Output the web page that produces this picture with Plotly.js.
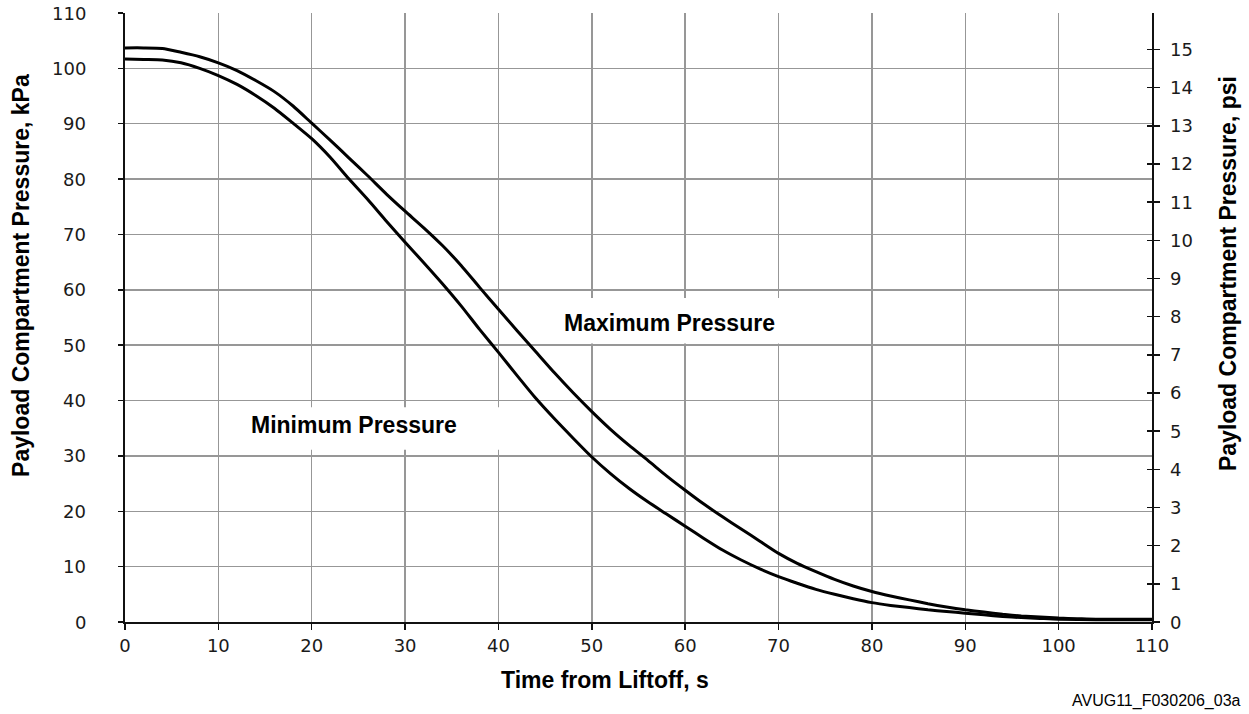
<!DOCTYPE html>
<html>
<head>
<meta charset="utf-8">
<script src="https://cdn.plot.ly/plotly-3.0.1.min.js"></script>
<style>html,body{margin:0;padding:0;background:#fff;}#chart{width:1249px;height:714px;}</style>
</head>
<body>
<div id="chart"></div>
<script>
// Time from liftoff, s
const timeMax = [0, 2, 4, 6, 8, 10, 12, 14, 16, 18, 20, 22, 24, 26, 28, 30, 32, 34, 36, 38, 40, 42, 44, 46, 48, 50, 52, 54, 56, 58, 60, 62, 64, 66, 68, 70, 72, 74, 76, 78, 80, 82, 84, 86, 88, 90, 92, 94, 96, 98, 100, 102, 104, 110];
// Maximum pressure, kPa
const pressureMax = [103.7, 103.7, 103.6, 102.9, 102.1, 101.0, 99.6, 97.8, 95.8, 93.2, 90.1, 87.0, 83.8, 80.6, 77.3, 74.2, 71.2, 68.0, 64.4, 60.4, 56.5, 52.6, 48.8, 45.0, 41.4, 38.0, 34.8, 31.9, 29.2, 26.4, 23.8, 21.3, 19.0, 16.8, 14.6, 12.4, 10.6, 9.1, 7.7, 6.5, 5.5, 4.7, 4.0, 3.3, 2.7, 2.2, 1.8, 1.4, 1.1, 0.9, 0.7, 0.6, 0.5, 0.5];

const timeMin = [0, 2, 4, 6, 8, 10, 12, 14, 16, 18, 20, 22, 24, 26, 28, 30, 32, 34, 36, 38, 40, 42, 44, 46, 48, 50, 52, 54, 56, 58, 60, 62, 64, 66, 68, 70, 72, 74, 76, 78, 80, 82, 84, 86, 88, 90, 92, 94, 96, 98, 100, 104, 110];
// Minimum pressure, kPa
const pressureMin = [101.7, 101.6, 101.5, 101.0, 100.0, 98.7, 97.1, 95.1, 92.8, 90.1, 87.3, 83.9, 80.0, 76.3, 72.4, 68.6, 64.9, 61.1, 57.1, 52.8, 48.7, 44.5, 40.4, 36.7, 33.2, 29.8, 26.8, 24.1, 21.7, 19.5, 17.3, 15.1, 13.0, 11.2, 9.6, 8.2, 7.0, 5.9, 5.0, 4.2, 3.5, 3.0, 2.6, 2.2, 1.9, 1.6, 1.3, 1.0, 0.8, 0.65, 0.5, 0.4, 0.4];

const xTicks = [0, 10, 20, 30, 40, 50, 60, 70, 80, 90, 100, 110];
const kpaTicks = [0, 10, 20, 30, 40, 50, 60, 70, 80, 90, 100, 110];
const psiTicks = [0, 1, 2, 3, 4, 5, 6, 7, 8, 9, 10, 11, 12, 13, 14, 15];
const KPA_PER_PSI = 6.894757;

const labelMax = {text: 'Maximum Pressure', t: 58.3, p: 54.0};
const labelMin = {text: 'Minimum Pressure', t: 24.5, p: 35.6};

const tickFont = {family: 'DejaVu Sans, sans-serif', size: 18, color: '#1a1a1a'};
const titleFont = {family: 'Liberation Sans, Arial, sans-serif', size: 23, color: '#000'};
const gridColor = '#979797';

const psiMax = pressureMax.map(p => p / KPA_PER_PSI);
const ghost = (yaxis, y) => ({x: timeMax, y: y, type: 'scatter', mode: 'lines', line: {width: 0},
  opacity: 0, hoverinfo: 'skip', showlegend: false, xaxis: 'x', yaxis: yaxis});

const traces = [
  {x: timeMax, y: pressureMax, type: 'scatter', mode: 'lines', name: 'Maximum Pressure',
   line: {color: '#000', width: 3, shape: 'spline', smoothing: 0.6}, xaxis: 'x', yaxis: 'y'},
  {x: timeMin, y: pressureMin, type: 'scatter', mode: 'lines', name: 'Minimum Pressure',
   line: {color: '#000', width: 3, shape: 'spline', smoothing: 0.6}, xaxis: 'x', yaxis: 'y'},
  // invisible psi copies so the overlaying right-hand axes are drawn
  ghost('y2', psiMax), ghost('y3', psiMax)
];

// tick labels of both pressure axes, set as text at the axes' own tick values
const kpaLabels = kpaTicks.map(v => ({
  text: String(v), xref: 'paper', yref: 'y', x: -0.036, y: v,
  xanchor: 'right', yanchor: 'middle', showarrow: false, font: tickFont
}));
const psiLabels = psiTicks.map(v => ({
  text: String(v), xref: 'paper', yref: 'y2', x: 1.0156, y: v,
  xanchor: 'left', yanchor: 'middle', showarrow: false, font: tickFont
}));

const layout = {
  width: 1249, height: 714,
  margin: {l: 125, r: 97, t: 13, b: 92, pad: 0},
  paper_bgcolor: '#fff', plot_bgcolor: '#fff',
  showlegend: false,
  xaxis: {
    range: [0, 110], tickmode: 'array', tickvals: xTicks, ticktext: xTicks.map(String),
    showgrid: true, gridcolor: gridColor, gridwidth: 1.5, zeroline: false,
    showline: true, linecolor: '#111', linewidth: 2,
    ticks: 'outside', ticklen: 6, tickwidth: 1.5, tickcolor: '#111',
    tickfont: tickFont, fixedrange: true
  },
  yaxis: {
    range: [0, 110], tickmode: 'array', tickvals: kpaTicks, showticklabels: false,
    showgrid: true, gridcolor: gridColor, gridwidth: 1.5, zeroline: false,
    showline: true, linecolor: '#111', linewidth: 2,
    ticks: 'outside', ticklen: 5, tickwidth: 1.5, tickcolor: '#111', fixedrange: true
  },
  yaxis2: {
    overlaying: 'y', side: 'right', anchor: 'x',
    range: [0, 110 / KPA_PER_PSI], tickmode: 'array', tickvals: psiTicks, showticklabels: false,
    showgrid: false, zeroline: false,
    showline: true, linecolor: '#111', linewidth: 2,
    ticks: 'outside', ticklen: 6, tickwidth: 1.5, tickcolor: '#111', fixedrange: true
  },
  yaxis3: {
    overlaying: 'y', side: 'right', anchor: 'x',
    range: [0, 110 / KPA_PER_PSI], tickmode: 'array', tickvals: psiTicks,
    showgrid: false, zeroline: false, showline: false, showticklabels: false,
    ticks: 'inside', ticklen: 5, tickwidth: 1.5, tickcolor: '#111', fixedrange: true
  },
  shapes: [
    {type: 'rect', xref: 'x', yref: 'y', x0: 11, x1: 41.5, y0: 31.1, y1: 38.8,
     fillcolor: '#fff', line: {width: 0}, layer: 'between'},
    {type: 'rect', xref: 'x', yref: 'y', x0: 43, x1: 74, y0: 50.3, y1: 58.5,
     fillcolor: '#fff', line: {width: 0}, layer: 'between'}
  ],
  annotations: kpaLabels.concat(psiLabels, [
    {text: '<b>' + labelMax.text + '</b>', x: labelMax.t, y: labelMax.p, xref: 'x', yref: 'y',
     showarrow: false, font: titleFont, xanchor: 'center', yanchor: 'middle'},
    {text: '<b>' + labelMin.text + '</b>', x: labelMin.t, y: labelMin.p, xref: 'x', yref: 'y',
     showarrow: false, font: titleFont, xanchor: 'center', yanchor: 'middle'},
    {text: '<b>Payload Compartment Pressure, kPa</b>', xref: 'paper', yref: 'paper',
     x: -0.1013, y: 0.5698, textangle: -90, showarrow: false, font: titleFont,
     xanchor: 'center', yanchor: 'middle'},
    {text: '<b>Payload Compartment Pressure, psi</b>', xref: 'paper', yref: 'paper',
     x: 1.074, y: 0.573, textangle: -90, showarrow: false, font: titleFont,
     xanchor: 'center', yanchor: 'middle'},
    {text: '<b>Time from Liftoff, s</b>', xref: 'paper', yref: 'paper',
     x: 0.4669, y: -0.0952, showarrow: false, font: titleFont,
     xanchor: 'center', yanchor: 'middle'},
    {text: 'AVUG11_F030206_03a', xref: 'paper', yref: 'paper',
     x: 1.0886, y: -0.1297, showarrow: false,
     font: {family: 'Liberation Sans, Arial, sans-serif', size: 16, color: '#000'},
     xanchor: 'right', yanchor: 'middle'}
  ])
};

Plotly.newPlot('chart', traces, layout, {displayModeBar: false, staticPlot: true});
</script>
</body>
</html>
